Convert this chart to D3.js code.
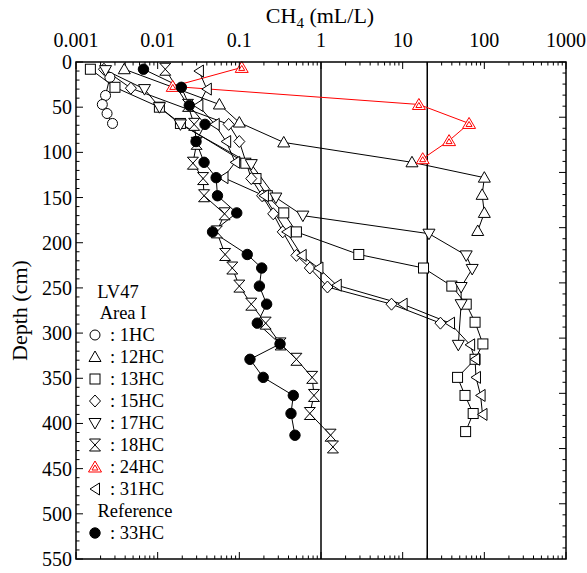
<!DOCTYPE html>
<html><head><meta charset="utf-8">
<script src="https://cdnjs.cloudflare.com/ajax/libs/d3/7.8.5/d3.min.js"></script>
<style>
body{margin:0;background:#fff}
svg{display:block}
text{font-family:"Liberation Serif","Times New Roman",serif;fill:#000}
</style>
</head><body>
<svg id="c" width="587" height="573"></svg>
<script>
// ---------- data ----------
const depth1HC = [17, 37, 47, 57, 68];
const ch4_1HC  = [0.0026, 0.0023, 0.0021, 0.0024, 0.0028];

const depth12HC = [8, 47, 67, 89, 111, 128, 147, 167, 187];
const ch4_12HC  = [0.0039, 0.057, 0.10, 0.35, 13, 100, 94, 100, 83];

const depth13HC = [8, 28, 50, 68, 112, 129, 148, 167, 188, 213, 228, 248, 268, 288, 312, 329, 349, 369, 389, 409];
const ch4_13HC  = [0.0015, 0.0030, 0.0105, 0.019, 0.12, 0.16, 0.22, 0.35, 0.50, 2.9, 18, 40, 60, 77, 96, 77, 47, 58, 73, 59];

const depth15HC = [8, 29, 69, 88, 129, 148, 168, 188, 214, 228, 249, 268, 289];
const ch4_15HC  = [0.0022, 0.0047, 0.074, 0.10, 0.14, 0.19, 0.26, 0.34, 0.50, 0.73, 1.2, 7.3, 29];

const depth17HC = [9, 30, 50, 69, 113, 150, 170, 190, 214, 229, 249, 268, 313];
const ch4_17HC  = [0.0023, 0.0069, 0.0105, 0.019, 0.14, 0.28, 0.60, 21, 60, 71, 52, 52, 48];

const depth18HC = [8, 48, 69, 90, 112, 129, 148, 168, 188, 213, 228, 248, 268, 289, 312, 329, 349, 369, 389, 413, 426];
const ch4_18HC  = [0.0124, 0.0235, 0.028, 0.030, 0.027, 0.036, 0.037, 0.066, 0.053, 0.067, 0.082, 0.10, 0.14, 0.21, 0.32, 0.50, 0.78, 0.82, 0.73, 1.31, 1.40];

const depth24HC = [6, 27, 47, 68, 87, 107];
const ch4_24HC  = [0.107, 0.0153, 15.8, 65, 37, 17.6];

const depth31HC = [10, 30, 48, 69, 88, 111, 128, 148, 188, 214, 228, 247, 268, 289, 313, 329, 349, 369, 390];
const ch4_31HC  = [0.032, 0.040, 0.0315, 0.050, 0.069, 0.089, 0.064, 0.20, 0.38, 0.58, 0.93, 1.56, 10, 38, 67, 77, 79, 90, 95];

const depth33HC = [8, 28, 48, 69, 88, 111, 128, 148, 167, 188, 213, 228, 248, 268, 289, 312, 329, 349, 369, 389, 413];
const ch4_33HC  = [0.0067, 0.0195, 0.0244, 0.038, 0.0295, 0.037, 0.052, 0.054, 0.093, 0.047, 0.125, 0.188, 0.176, 0.216, 0.166, 0.315, 0.135, 0.196, 0.458, 0.429, 0.48];

const seriesNames = ["1HC","12HC","13HC","15HC","17HC","18HC","24HC","31HC","33HC"];
const xTickValues = [0.001, 0.01, 0.1, 1, 10, 100, 1000];
const xTickLabels = ["0.001","0.01","0.1","1","10","100","1000"];
const yTickValues = [0,50,100,150,200,250,300,350,400,450,500,550];
const refLines = [1, 20];
const titleX = "CH";
const titleSub = "4";
const titleRest = " (mL/L)";
const titleY = "Depth (cm)";
const legendHead = ["LV47", "Area I"];
const legendRef = "Reference";

// ---------- layout ----------
const L = 76, R = 566, T = 62, B = 559;
const x = d3.scaleLog().domain([0.001, 1000]).range([L, R]);
const y = d3.scaleLinear().domain([0, 550]).range([T, B]);
const yR = d3.scaleLinear().domain([0, 9]).range([T, B]); // right-side decoration ticks

const svg = d3.select("#c");

const series = [
  {name:"1HC",  d:depth1HC,  v:ch4_1HC,  sym:"circle", color:"#000"},
  {name:"12HC", d:depth12HC, v:ch4_12HC, sym:"up",     color:"#000"},
  {name:"13HC", d:depth13HC, v:ch4_13HC, sym:"square", color:"#000"},
  {name:"15HC", d:depth15HC, v:ch4_15HC, sym:"diamond",color:"#000"},
  {name:"17HC", d:depth17HC, v:ch4_17HC, sym:"down",   color:"#000"},
  {name:"18HC", d:depth18HC, v:ch4_18HC, sym:"hour",   color:"#000"},
  {name:"24HC", d:depth24HC, v:ch4_24HC, sym:"red",    color:"#ff0000"},
  {name:"31HC", d:depth31HC, v:ch4_31HC, sym:"left",   color:"#000"},
  {name:"33HC", d:depth33HC, v:ch4_33HC, sym:"filled", color:"#000"}
];

// vertical reference lines
svg.append("g").selectAll("line").data(refLines).join("line")
  .attr("x1", d => x(d)).attr("x2", d => x(d))
  .attr("y1", T).attr("y2", B)
  .attr("stroke", "#000").attr("stroke-width", 1.5);

// connecting lines
const line = d3.line().x(p => x(p[0])).y(p => y(p[1]));
series.forEach(s => {
  const pts = s.v.map((v,i) => [v, s.d[i]]);
  svg.append("path").attr("d", line(pts))
    .attr("fill","none").attr("stroke", s.color).attr("stroke-width", 1);
});

function drawSym(g, type, cx, cy){
  const st = "#000";
  if (type === "circle") {
    g.append("circle").attr("cx",cx).attr("cy",cy).attr("r",5).attr("fill","#fff").attr("stroke",st).attr("stroke-width",1);
  } else if (type === "filled") {
    g.append("circle").attr("cx",cx).attr("cy",cy).attr("r",5.2).attr("fill","#000").attr("stroke",st).attr("stroke-width",1);
  } else if (type === "square") {
    g.append("rect").attr("x",cx-5).attr("y",cy-5).attr("width",10).attr("height",10).attr("fill","#fff").attr("stroke",st).attr("stroke-width",1);
  } else {
    let d;
    if (type === "up") d = "M0,-6L6,4.5L-6,4.5Z";
    else if (type === "down") d = "M0,6L6,-4.5L-6,-4.5Z";
    else if (type === "diamond") d = "M0,-6L5.5,0L0,6L-5.5,0Z";
    else if (type === "left") d = "M-5,0L4.5,-6L4.5,6Z";
    else if (type === "hour") d = "M-5.5,-6L5.5,-6L-5.5,6L5.5,6Z";
    else if (type === "red") d = "M0,-6L6.5,5L-6.5,5Z";
    const col = type === "red" ? "#ff0000" : st;
    g.append("path").attr("d", d).attr("transform", `translate(${cx},${cy})`)
      .attr("fill","#fff").attr("stroke",col).attr("stroke-width",1).attr("stroke-linejoin","miter");
    if (type === "red") {
      g.append("path").attr("d","M0,-2L3,3L-3,3Z").attr("transform", `translate(${cx},${cy})`)
        .attr("fill","none").attr("stroke",col).attr("stroke-width",1);
    }
  }
}

// markers
series.forEach(s => {
  const g = svg.append("g");
  s.v.forEach((v,i) => drawSym(g, s.sym, x(v), y(s.d[i])));
});

// ---------- axes / frame ----------
const axG = svg.append("g").attr("stroke","#000");
svg.append("rect").attr("x",L).attr("y",T).attr("width",R-L).attr("height",B-T)
  .attr("fill","none").attr("stroke","#000").attr("stroke-width",1.5);

// top & bottom log ticks (inward)
const logTicks = [];
for (let e = -3; e < 3; e++) for (let k = 1; k < 10; k++) logTicks.push({v: k*Math.pow(10,e), major: k===1});
logTicks.push({v:1000, major:true});
logTicks.forEach(t => {
  const px = x(t.v), len = t.major ? 7 : 3.5;
  axG.append("line").attr("x1",px).attr("x2",px).attr("y1",T).attr("y2",T+len).attr("stroke-width",1);
  axG.append("line").attr("x1",px).attr("x2",px).attr("y1",B).attr("y2",B-len).attr("stroke-width",1);
});
// left ticks
d3.range(0, 551, 10).forEach(v => {
  const len = v % 50 === 0 ? 7 : 3.5;
  axG.append("line").attr("x1",L).attr("x2",L+len).attr("y1",y(v)).attr("y2",y(v)).attr("stroke-width",1);
});
// right ticks
d3.range(0, 45).forEach(i => {
  const v = i/5, len = i % 5 === 0 ? 7 : 3.5;
  axG.append("line").attr("x1",R).attr("x2",R-len).attr("y1",yR(v)).attr("y2",yR(v)).attr("stroke-width",1);
});

// tick labels
svg.append("g").selectAll("text").data(xTickValues).join("text")
  .attr("x", d => x(d)).attr("y", 46.5).attr("text-anchor","middle")
  .attr("font-size", 20).text((d,i) => xTickLabels[i]);
svg.append("g").selectAll("text").data(yTickValues).join("text")
  .attr("x", L-4).attr("y", d => y(d)+7).attr("text-anchor","end")
  .attr("font-size", 20).text(d => d);

// titles
const tt = svg.append("text").attr("x", 320).attr("y", 23).attr("text-anchor","middle").attr("font-size", 22);
tt.append("tspan").text(titleX);
tt.append("tspan").attr("font-size", 15).attr("dy", 5).text(titleSub);
tt.append("tspan").attr("dy", -5).text(titleRest);

svg.append("text").attr("transform", `translate(27,${(T+B)/2}) rotate(-90)`)
  .attr("text-anchor","middle").attr("font-size", 22).text(titleY);

// ---------- legend ----------
const lg = svg.append("g");
lg.append("text").attr("x",118).attr("y",298).attr("text-anchor","middle").attr("font-size",18.5).text(legendHead[0]);
lg.append("text").attr("x",123).attr("y",319).attr("text-anchor","middle").attr("font-size",18.5).text(legendHead[1]);
const legRows = series.filter(s => s.name !== "33HC");
legRows.forEach((s,i) => {
  const cy = 335 + i*22;
  drawSym(lg, s.sym, 95, cy);
  lg.append("text").attr("x",110).attr("y",cy+6).attr("font-size",18.5).text(": " + s.name);
});
lg.append("text").attr("x",135).attr("y",517).attr("text-anchor","middle").attr("font-size",18.5).text(legendRef);
drawSym(lg, "filled", 95, 533);
lg.append("text").attr("x",110).attr("y",539).attr("font-size",18.5).text(": 33HC");
</script>
</body></html>
